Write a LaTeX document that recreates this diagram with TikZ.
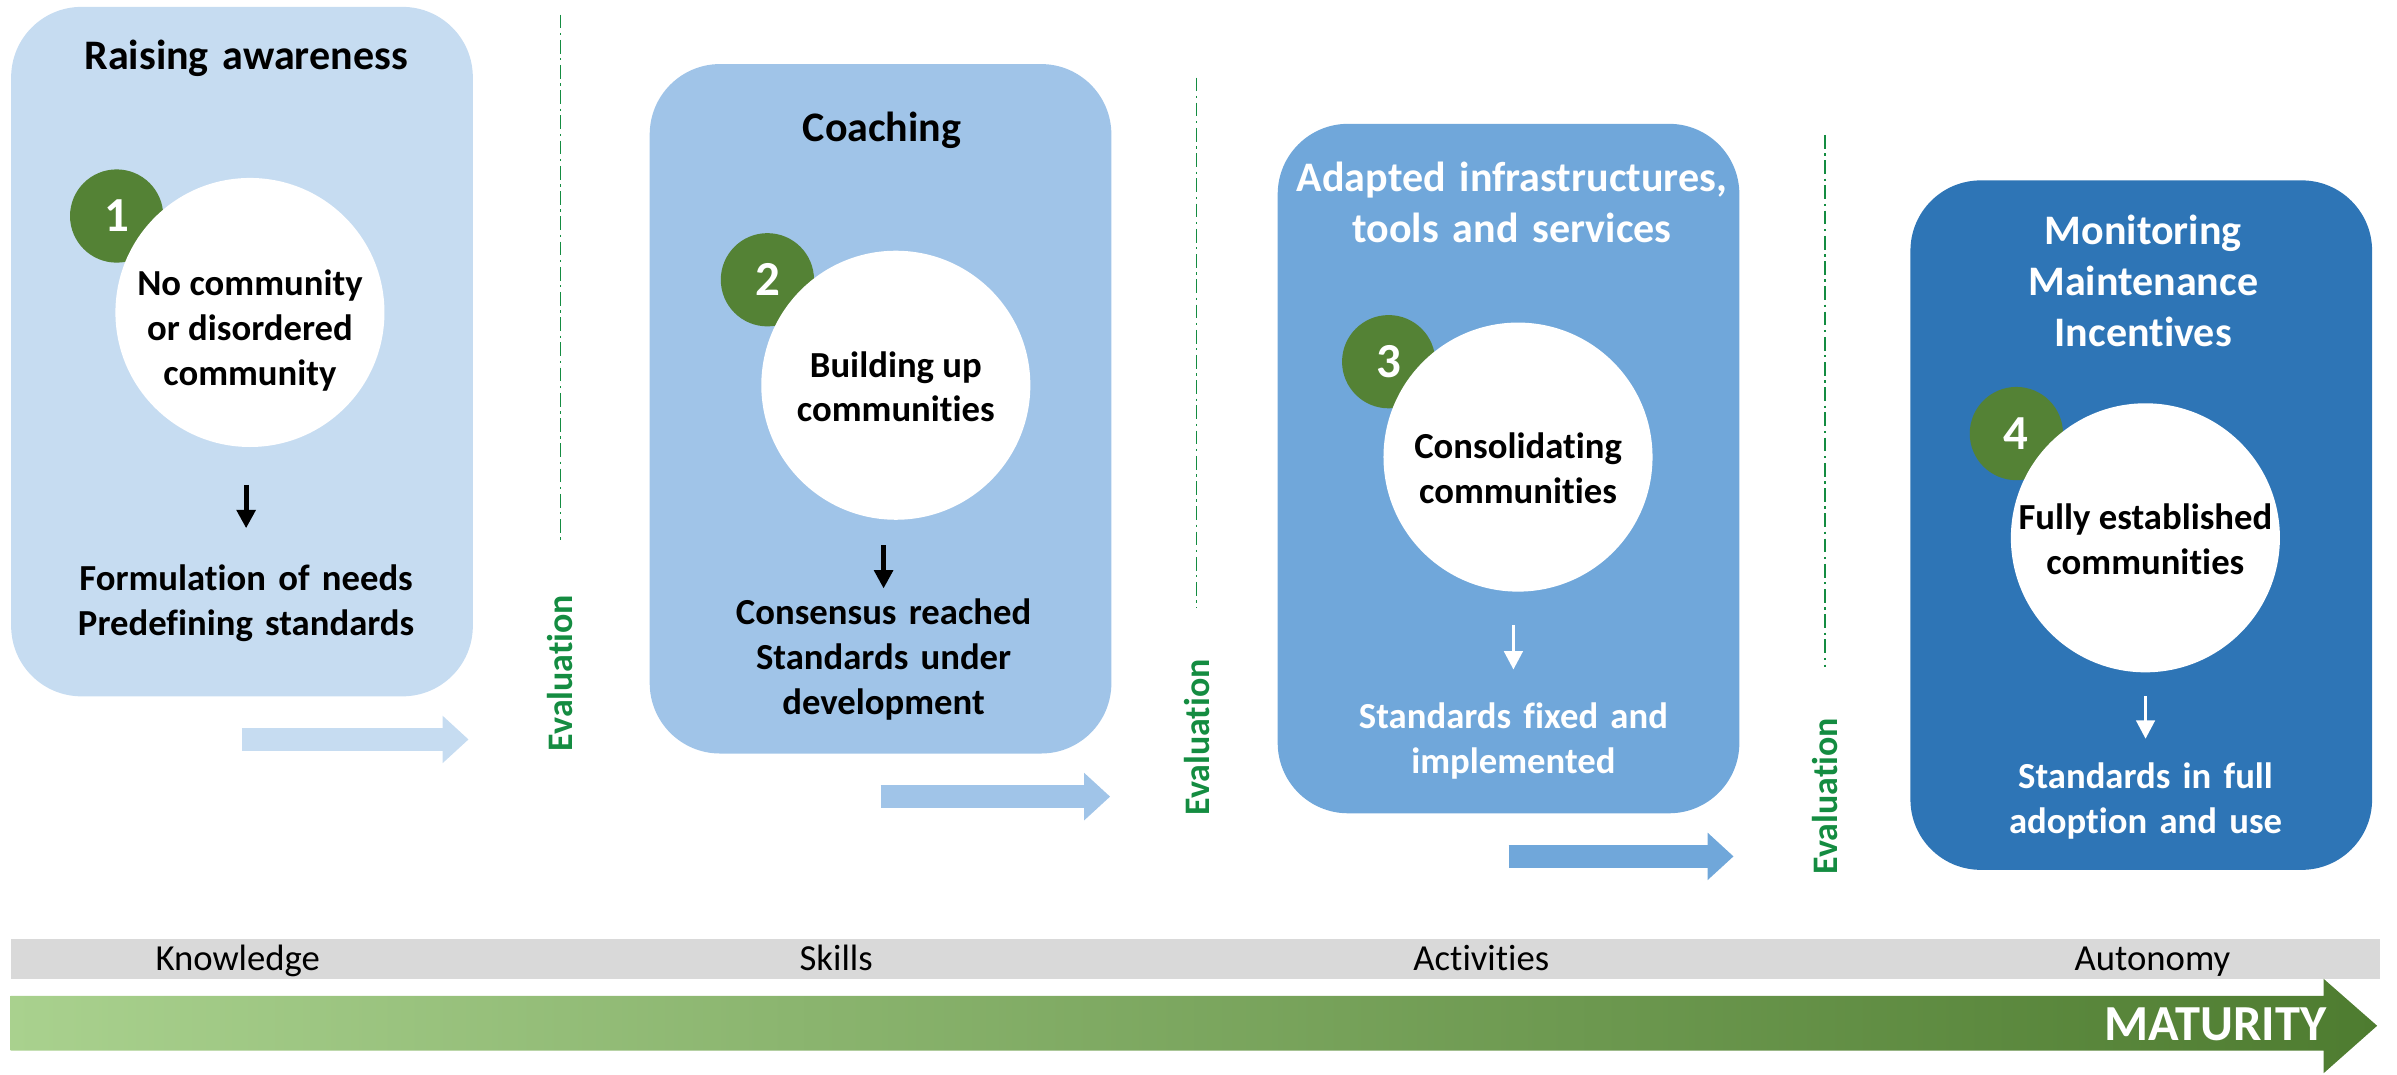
\documentclass[tikz,border=0pt]{standalone}
\usepackage{fontspec}
\setmainfont{Carlito}[Ligatures=CommonOff]
\usepackage{xcolor}
\definecolor{awareBlue}{RGB}{198,220,241}
\definecolor{coachBlue}{RGB}{160,196,232}
\definecolor{toolBlue}{RGB}{112,167,218}
\definecolor{monitorBlue}{RGB}{46,117,182}
\definecolor{stepGreen}{RGB}{84,130,53}
\definecolor{evalGreen}{RGB}{20,140,65}
\definecolor{barGray}{RGB}{217,217,217}
\definecolor{maturityLight}{RGB}{169,209,142}
\definecolor{maturityMid}{RGB}{114,174,72}
\definecolor{maturityDark}{RGB}{78,124,48}
\usepackage{tikz}
\usetikzlibrary{positioning,shapes,backgrounds,arrows.meta}

\begin{document}
\begin{tikzpicture}[x=1pt, y=-1pt,
  stagebox/.style={rounded corners=46pt, minimum width=302pt, minimum height=451pt, inner sep=0pt},
  stagetitle/.style={anchor=base, text width=300pt, align=center, inner sep=0pt, font=\fontsize{27.5}{33.5}\selectfont\bfseries},
  outcome/.style={anchor=base, text width=300pt, align=center, inner sep=0pt, font=\fontsize{24}{29.4}\selectfont\bfseries},
  badge/.style={circle, fill=stepGreen, minimum size=61pt, inner sep=0pt, text=white, font=\fontsize{32}{38}\selectfont\bfseries},
  bubble/.style={circle, fill=white, minimum size=176pt, inner sep=0pt},
  bubbletext/.style={align=center, inner sep=0pt, font=\fontsize{24}{29.4}\selectfont\bfseries},
  evaltext/.style={rotate=90, inner sep=0pt, text=evalGreen, font=\fontsize{23.5}{28}\selectfont\bfseries},
  evalline/.style={evalGreen, line width=1pt, dash pattern=on 9pt off 3pt on 1.5pt off 3pt},
  darrow/.style={line width=3.3pt, -{Triangle[length=12pt,width=12pt]}},
  stagearrow/.style={line width=15.4pt, -{Triangle[length=17pt,width=30pt]}},
  stagelabel/.style={anchor=base, inner sep=0pt, font=\fontsize{24}{29}\selectfont}]
\useasboundingbox (0,0) rectangle (1568,702.6);

% stage 1
\node[stagebox, fill=awareBlue] (b1) at (158.3,230) {};
\node[stagetitle] (t1) at (161,45.3) {Raising awareness};
\node[badge] (g1) at (76.3,141.3) {1};
\node[bubble] (w1) at (163.5,204.4) {};
\node[bubbletext] (n1) at ([shift={(0,12)}]w1.center) {No community\\or disordered\\community};
\node[outcome] (o1) at (161,386) {Formulation of needs\\Predefining standards};
\draw[darrow, shorten <=24.6pt, shorten >=23.4pt] (o1.north |- w1.south) -- (o1.north);
\draw[stagearrow, awareBlue] ([shift={(0,28)}]b1.south) -- ([shift={(-3,28)}]b1.south east);

% stage 2
\node[stagebox, fill=coachBlue] (b2) at (576,267.4) {};
\node[stagetitle] (t2) at (577,92.5) {Coaching};
\node[badge] (g2) at (502,183) {2};
\node[bubble] (w2) at (586,252) {};
\node[bubbletext] (n2) at ([shift={(0,1)}]w2.center) {Building up\\communities};
\node[outcome] (o2) at (578,408.8) {Consensus reached\\Standards under\\development};
\draw[darrow, shorten <=16.4pt, shorten >=6.8pt] (o2.north |- w2.south) -- (o2.north);
\draw[stagearrow, coachBlue] ([shift={(0,28)}]b2.south) -- ([shift={(-1,28)}]b2.south east);

% stage 3
\node[stagebox, fill=toolBlue] (b3) at (986.8,306.5) {};
\node[stagetitle, text=white] (t3) at (989,125.2) {Adapted infrastructures,\\tools and services};
\node[badge] (g3) at (908.4,236.6) {3};
\node[bubble] (w3) at (993,299) {};
\node[bubbletext] (n3) at ([shift={(0,7)}]w3.center) {Consolidating\\communities};
\node[outcome, text=white] (o3) at (990,476.8) {Standards fixed and\\implemented};
\draw[darrow, white, line width=2.2pt, shorten <=21.8pt, shorten >=21.8pt] (o3.north |- w3.south) -- (o3.north);
\draw[stagearrow, toolBlue] ([shift={(0,28)}]b3.south) -- ([shift={(-4,28)}]b3.south east);

% stage 4
\node[stagebox, fill=monitorBlue] (b4) at (1400.7,343.5) {};
\node[stagetitle, text=white] (t4) at (1402,159.7) {Monitoring\\Maintenance\\Incentives};
\node[badge] (g4) at (1319,283.6) {4};
\node[bubble] (w4) at (1403.4,351.8) {};
\node[bubbletext] (n4) at ([shift={(0,1)}]w4.center) {Fully established\\communities};
\node[outcome, text=white] (o4) at (1403.5,515.9) {Standards in full\\adoption and use};
\draw[darrow, white, line width=2.2pt, shorten <=15.4pt, shorten >=15.6pt] (o4.north |- w4.south) -- (o4.north);

% evaluations
\draw[evalline] (366.5,9.5) -- (366.5,354.5);
\node[evaltext] (e1) at (366.5,440.2) {Evaluation};
\draw[evalline] (782.8,50.7) -- (782.8,397.3);
\node[evaltext] (e2) at (782.8,482.4) {Evaluation};
\draw[evalline] (1193.7,88.3) -- (1193.7,436.6);
\node[evaltext] (e3) at (1193.7,520.8) {Evaluation};

% maturity scale
\node[fill=barGray, minimum width=1550pt, minimum height=26pt, inner sep=0pt] (bar) at (782,627.2) {};
\node[stagelabel] (k1) at (155.5,635) {Knowledge};
\node[stagelabel] (k2) at (547,635) {Skills};
\node[stagelabel] (k3) at (969,635) {Activities};
\node[stagelabel] (k4) at (1408,635) {Autonomy};
\shade[left color=maturityLight, middle color=maturityMid, right color=maturityDark]
  (7,651.4) -- (1520,651.4) -- (1520,640.3) -- (1555,671) -- (1520,702) -- (1520,687.2) -- (7,687.2) -- cycle;
\node[anchor=east, inner sep=0pt, text=white, font=\fontsize{33}{40}\selectfont\bfseries] (mat) at (1522,670) {MATURITY};
\end{tikzpicture}
\end{document}
